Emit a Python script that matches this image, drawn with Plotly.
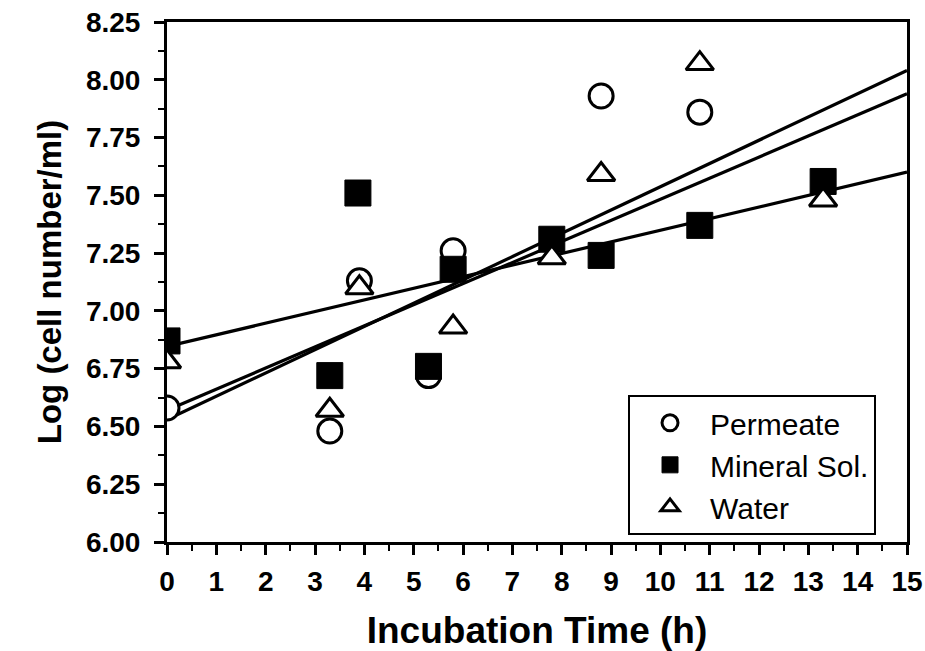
import plotly.graph_objects as go

# ---- data ----
perm_x = [0.0, 3.3, 3.9, 5.3, 5.8, 8.8, 10.8]
perm_y = [6.58, 6.48, 7.13, 6.72, 7.26, 7.93, 7.86]

min_x = [0.0, 3.3, 3.87, 5.3, 5.8, 7.8, 8.8, 10.8, 13.3]
min_y = [6.87, 6.72, 7.51, 6.76, 7.18, 7.31, 7.24, 7.37, 7.56]

wat_x = [0.0, 3.3, 3.9, 5.8, 7.8, 8.8, 10.8, 13.3]
wat_y = [6.78, 6.57, 7.10, 6.93, 7.23, 7.59, 8.07, 7.48]

# regression lines (intercept, slope) as drawn in the reference
fit_names = ["Permeate", "Mineral Sol.", "Water"]
fit_intercepts = [6.53, 6.846, 6.57]
fit_slopes = [0.1007, 0.0503, 0.0913]
fit_range = [0, 15]

x_ticks = list(range(0, 16))
y_ticks = [6.00, 6.25, 6.50, 6.75, 7.00, 7.25, 7.50, 7.75, 8.00, 8.25]

FONT = "Liberation Sans, Arial, Helvetica, sans-serif"

fig = go.Figure()

for b, m in zip(fit_intercepts, fit_slopes):
    fig.add_trace(go.Scatter(
        x=fit_range, y=[b + m * xx for xx in fit_range], mode="lines",
        line=dict(color="black", width=3.2), showlegend=False, hoverinfo="skip"))

fig.add_trace(go.Scatter(
    x=perm_x, y=perm_y, mode="markers", name="Permeate",
    marker=dict(symbol="circle", size=24, color="white",
                line=dict(color="black", width=3))))
fig.add_trace(go.Scatter(
    x=min_x, y=min_y, mode="markers", name="Mineral Sol.",
    marker=dict(symbol="square", size=26, color="black",
                line=dict(color="black", width=1))))
fig.add_trace(go.Scatter(
    x=wat_x, y=wat_y, mode="markers", name="Water",
    marker=dict(symbol="triangle-up", size=24, color="white",
                line=dict(color="black", width=3))))

fig.update_layout(
    width=925, height=651,
    margin=dict(l=167, r=18, t=22, b=109),
    paper_bgcolor="white", plot_bgcolor="white",
    font=dict(family=FONT, color="black"),
    showlegend=True,
    legend=dict(
        x=0.623, y=0.283, xanchor="left", yanchor="top",
        bgcolor="white", bordercolor="black", borderwidth=2,
        font=dict(family=FONT, size=30, color="black"),
        itemwidth=70, tracegroupgap=0,
    ),
    xaxis=dict(
        range=[0, 15], tickvals=x_ticks, ticktext=[str(v) for v in x_ticks],
        automargin=False,
        showgrid=False, zeroline=False,
        showline=True, linecolor="black", linewidth=3, mirror=True,
        ticks="outside", ticklen=10, tickwidth=2.5, tickcolor="black",
        ticklabelstandoff=2,
        minor=dict(ticks="outside", ticklen=6, tickwidth=2, dtick=0.5,
                   tickcolor="black", showgrid=False),
        tickfont=dict(family=FONT, size=28, color="black", weight="bold"),
        title=dict(text="Incubation Time (h)", standoff=22,
                   font=dict(family=FONT, size=37, color="black", weight="bold")),
    ),
    yaxis=dict(
        range=[6.0, 8.25], tickvals=y_ticks,
        ticktext=[f"{v:.2f}" for v in y_ticks],
        automargin=False,
        showgrid=False, zeroline=False,
        showline=True, linecolor="black", linewidth=3, mirror=True,
        ticks="outside", ticklen=10, tickwidth=2.5, tickcolor="black",
        ticklabelstandoff=8,
        minor=dict(ticks="outside", ticklen=6, tickwidth=2, dtick=0.125,
                   tickcolor="black", showgrid=False),
        tickfont=dict(family=FONT, size=28, color="black", weight="bold"),
        title=dict(text="Log (cell number/ml)",
                   font=dict(family=FONT, size=33, color="black", weight="bold")),
    ),
)

fig.write_html("out.html")
